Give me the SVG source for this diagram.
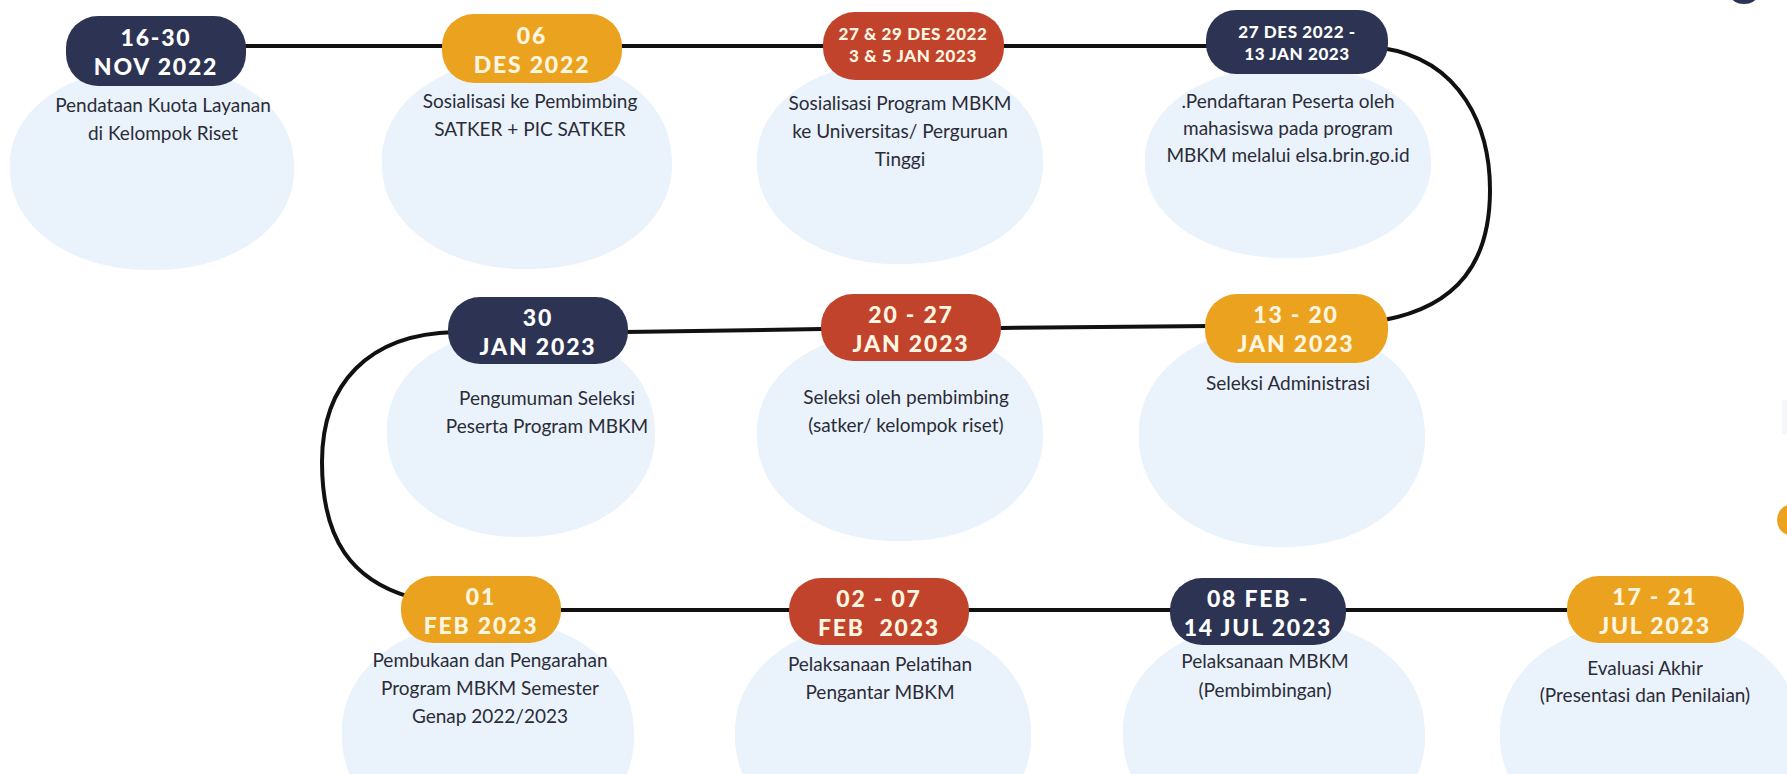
<svg xmlns="http://www.w3.org/2000/svg" xmlns:xlink="http://www.w3.org/1999/xlink" width="1787" height="774" viewBox="0 0 1787 774">
<style>
.blob{fill:#EAF2FB}
.navy{fill:#2D3453}
.orange{fill:#EBA31F}
.red{fill:#C1432B}
.bt{font-family:Lato,"Open Sans",sans-serif;font-weight:900;fill:#FFFFFF;text-anchor:middle}
.big{font-size:23px;letter-spacing:1.8px}
.sm{font-size:17px;letter-spacing:0.6px}
.bt.cream{fill:#FFF6E2}
.dt{font-family:Lato,"Open Sans",sans-serif;font-size:19px;fill:#2A2C38;text-anchor:middle}
.conn{fill:none;stroke:#111111;stroke-width:4;stroke-linecap:round}
</style>
<defs>
<path id="blobShape" d="M0,-1 C0.58,-1.02 1,-0.6 1,-0.02 C1.02,0.55 0.6,1 0.02,1 C-0.56,1.02 -1,0.58 -1,0.02 C-1.02,-0.56 -0.6,-0.98 0,-1Z"/>
</defs>
<rect width="1787" height="774" fill="#FFFFFF"/>

<!-- background blobs -->
<g id="blobs">
<use xlink:href="#blobShape" class="blob" transform="translate(152,168) scale(142,102)"/>
<use xlink:href="#blobShape" class="blob" transform="translate(527,163) scale(145,106)"/>
<use xlink:href="#blobShape" class="blob" transform="translate(900,162) scale(143,102)"/>
<use xlink:href="#blobShape" class="blob" transform="translate(1288,162) scale(143,96)"/>
<use xlink:href="#blobShape" class="blob" transform="translate(521,433) scale(134,104)"/>
<use xlink:href="#blobShape" class="blob" transform="translate(900,435) scale(143,106)"/>
<use xlink:href="#blobShape" class="blob" transform="translate(1282,436) scale(143,111)"/>
<use xlink:href="#blobShape" class="blob" transform="translate(488,735) scale(146,115)"/>
<use xlink:href="#blobShape" class="blob" transform="translate(883,735) scale(148,115)"/>
<use xlink:href="#blobShape" class="blob" transform="translate(1274,735) scale(151,115)"/>
<use xlink:href="#blobShape" class="blob" transform="translate(1650,735) scale(150,115)"/>
</g>

<!-- edge decorations -->
<g id="edge-decor">
<ellipse cx="1744" cy="-4" rx="13" ry="8" class="navy"/>
<ellipse cx="1790" cy="520" rx="13" ry="15" class="orange"/>
<rect x="1782" y="400" width="5" height="34" fill="#F4F6FA"/>
</g>

<!-- connectors -->
<g id="connectors">
<path class="conn" d="M240,46 L1212,46"/>
<path class="conn" d="M1382,48 C1462,60 1490,128 1490,190 C1490,262 1458,306 1384,320"/>
<path class="conn" d="M1212,326 L1000,328 M822,329 L625,332"/>
<path class="conn" d="M455,332 C368,334 322,384 322,462 C322,540 352,580 410,597"/>
<path class="conn" d="M555,610 L1572,610"/>
</g>

<!-- row 1 -->
<g id="node-1">
<rect x="66" y="16" width="180" height="70" rx="32" class="navy"/>
<text class="bt big" x="156" y="46">16-30</text>
<text class="bt big" x="156" y="75">NOV 2022</text>
<text class="dt" x="163" y="112">Pendataan Kuota Layanan</text>
<text class="dt" x="163" y="140">di Kelompok Riset</text>
</g>
<g id="node-2">
<rect x="442" y="14" width="180" height="69" rx="32" class="orange"/>
<text class="bt cream big" x="532" y="44">06</text>
<text class="bt cream big" x="532" y="73">DES 2022</text>
<text class="dt" x="530" y="108">Sosialisasi ke Pembimbing</text>
<text class="dt" x="530" y="136">SATKER + PIC SATKER</text>
</g>
<g id="node-3">
<rect x="823" y="12" width="181" height="68" rx="32" class="red"/>
<text class="bt cream sm" x="913" y="40">27 &amp; 29 DES 2022</text>
<text class="bt cream sm" x="913" y="62">3 &amp; 5 JAN 2023</text>
<text class="dt" x="900" y="110">Sosialisasi Program MBKM</text>
<text class="dt" x="900" y="138">ke Universitas/ Perguruan</text>
<text class="dt" x="900" y="166">Tinggi</text>
</g>
<g id="node-4">
<rect x="1206" y="10" width="182" height="64" rx="30" class="navy"/>
<text class="bt sm" x="1297" y="38">27 DES 2022 -</text>
<text class="bt sm" x="1297" y="60">13 JAN 2023</text>
<text class="dt" x="1288" y="108">.Pendaftaran Peserta oleh</text>
<text class="dt" x="1288" y="135">mahasiswa pada program</text>
<text class="dt" x="1288" y="162">MBKM melalui elsa.brin.go.id</text>
</g>

<!-- row 2 -->
<g id="node-5">
<rect x="448" y="297" width="180" height="67" rx="32" class="navy"/>
<text class="bt big" x="538" y="326">30</text>
<text class="bt big" x="538" y="355">JAN 2023</text>
<text class="dt" x="547" y="405">Pengumuman Seleksi</text>
<text class="dt" x="547" y="433">Peserta Program MBKM</text>
</g>
<g id="node-6">
<rect x="821" y="294" width="180" height="67" rx="32" class="red"/>
<text class="bt cream big" x="911" y="323">20 - 27</text>
<text class="bt cream big" x="911" y="352">JAN 2023</text>
<text class="dt" x="906" y="404">Seleksi oleh pembimbing</text>
<text class="dt" x="906" y="432">(satker/ kelompok riset)</text>
</g>
<g id="node-7">
<rect x="1205" y="294" width="183" height="69" rx="32" class="orange"/>
<text class="bt cream big" x="1296" y="323">13 - 20</text>
<text class="bt cream big" x="1296" y="352">JAN 2023</text>
<text class="dt" x="1288" y="390">Seleksi Administrasi</text>
</g>

<!-- row 3 -->
<g id="node-8">
<rect x="401" y="576" width="160" height="67" rx="32" class="orange"/>
<text class="bt cream big" x="481" y="605">01</text>
<text class="bt cream big" x="481" y="634">FEB 2023</text>
<text class="dt" x="490" y="667">Pembukaan dan Pengarahan</text>
<text class="dt" x="490" y="695">Program MBKM Semester</text>
<text class="dt" x="490" y="723">Genap 2022/2023</text>
</g>
<g id="node-9">
<rect x="789" y="578" width="180" height="67" rx="32" class="red"/>
<text class="bt cream big" x="879" y="607">02 - 07</text>
<text class="bt cream big" x="879" y="636">FEB&#160; 2023</text>
<text class="dt" x="880" y="671">Pelaksanaan Pelatihan</text>
<text class="dt" x="880" y="699">Pengantar MBKM</text>
</g>
<g id="node-10">
<rect x="1170" y="578" width="176" height="67" rx="32" class="navy"/>
<text class="bt big" x="1258" y="607">08 FEB -</text>
<text class="bt big" x="1258" y="636">14 JUL 2023</text>
<text class="dt" x="1265" y="668">Pelaksanaan MBKM</text>
<text class="dt" x="1265" y="697">(Pembimbingan)</text>
</g>
<g id="node-11">
<rect x="1567" y="576" width="177" height="67" rx="32" class="orange"/>
<text class="bt cream big" x="1655" y="605">17 - 21</text>
<text class="bt cream big" x="1655" y="634">JUL 2023</text>
<text class="dt" x="1645" y="675">Evaluasi Akhir</text>
<text class="dt" x="1645" y="702">(Presentasi dan Penilaian)</text>
</g>
</svg>
